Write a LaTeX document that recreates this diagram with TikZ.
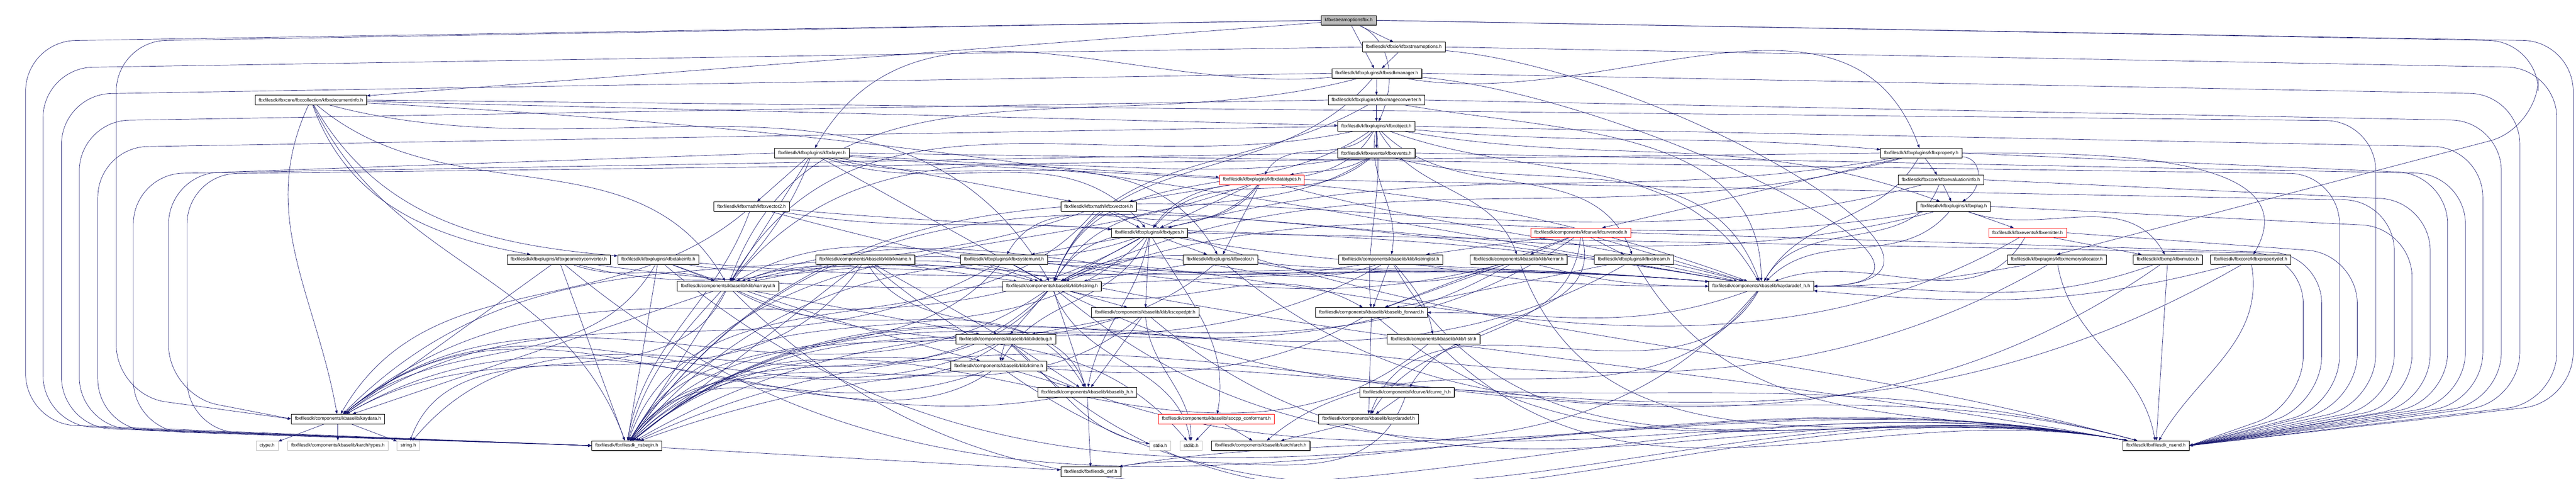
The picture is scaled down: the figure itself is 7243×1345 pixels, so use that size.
\documentclass[tikz,border=0pt]{standalone}
\usepackage{fontspec}
\setmainfont{Liberation Sans}
\usetikzlibrary{arrows.meta,shadows,calc}
\definecolor{edgeblue}{RGB}{25,25,112}
\definecolor{leafgray}{RGB}{191,191,191}
\pgfdeclarelayer{bg}
\pgfsetlayers{bg,main}
\tikzset{
  lnk/.style={draw=edgeblue, line width=0.1pt, -{Triangle[length=0.95pt,width=0.7pt]}},
  bx/.style={draw=black, fill=white, line width=0.1pt, font=\fontsize{1.307}{1.5}\selectfont,
     inner xsep=1pt, inner ysep=0pt, minimum height=2.7pt,
     drop shadow={shadow xshift=0.15pt, shadow yshift=-0.15pt, fill=black!60, opacity=1}},
  rootbx/.style={bx, fill=leafgray},
  redbx/.style={draw=red, fill=white, line width=0.1pt, font=\fontsize{1.307}{1.5}\selectfont,
     inner xsep=1pt, inner ysep=0pt, minimum height=2.7pt},
  leafbx/.style={draw=leafgray, fill=white, line width=0.1pt, font=\fontsize{1.307}{1.5}\selectfont,
     inner xsep=1pt, inner ysep=0pt, minimum height=2.7pt}
}
\newcommand\EdS[2]{\draw[lnk] (#1) -- (#2);}
\newcommand\EdC[4]{\draw[lnk] (#1) to[out=#3,in=#4] (#2);}
\newcommand\EdCL[5]{\draw[lnk] (#1) to[out=#3,in=#4,looseness=#5] (#2);}
\newcommand\EdL[4]{\draw[lnk,rounded corners=14pt] (#1.west) -- ($(#3,0 |- #1.south)+(0,45)$) -- (#3,#4) -- (#2.west);}
\newcommand\EdR[4]{\draw[lnk,rounded corners=14pt] (#1.east) -- ($(#3,0 |- #1.south)+(0,45)$) -- (#3,#4) -- (#2.east);}
\begin{document}
\begin{tikzpicture}[x=0.1pt,y=-0.1pt]
\useasboundingbox (0,0) rectangle (7243,1345);
% ---------------- nodes ----------------
\node[rootbx] (root) at (3792,57) {kfbxstreamoptionsfbx.h};
\node[bx] (sopt) at (3947,132) {fbxfilesdk/kfbxio/kfbxstreamoptions.h};
\node[bx] (sdkm) at (3871,206) {fbxfilesdk/kfbxplugins/kfbxsdkmanager.h};
\node[bx] (docinfo) at (874,281) {fbxfilesdk/fbxcore/fbxcollection/kfbxdocumentinfo.h};
\node[bx] (imgconv) at (3870,281) {fbxfilesdk/kfbxplugins/kfbximageconverter.h};
\node[bx] (object) at (3870,355) {fbxfilesdk/kfbxplugins/kfbxobject.h};
\node[bx] (layer) at (2283,430) {fbxfilesdk/kfbxplugins/kfbxlayer.h};
\node[bx] (events) at (3870,430) {fbxfilesdk/kfbxevents/kfbxevents.h};
\node[bx] (property) at (5402,430) {fbxfilesdk/kfbxplugins/kfbxproperty.h};
\node[redbx] (datatypes) at (3548,505) {fbxfilesdk/kfbxplugins/kfbxdatatypes.h};
\node[bx] (evalinfo) at (5457,505) {fbxfilesdk/fbxcore/kfbxevaluationinfo.h};
\node[bx] (vector2) at (2113,580) {fbxfilesdk/kfbxmath/kfbxvector2.h};
\node[bx] (vector4) at (3089,580) {fbxfilesdk/kfbxmath/kfbxvector4.h};
\node[bx] (plug) at (5493,580) {fbxfilesdk/kfbxplugins/kfbxplug.h};
\node[bx] (types) at (3232,654) {fbxfilesdk/kfbxplugins/kfbxtypes.h};
\node[redbx] (curvenode) at (4445,654) {fbxfilesdk/components/kfcurve/kfcurvenode.h};
\node[redbx] (emitter) at (5701,654) {fbxfilesdk/kfbxevents/kfbxemitter.h};
\node[bx] (geomconv) at (1571,729) {fbxfilesdk/kfbxplugins/kfbxgeometryconverter.h};
\node[bx] (takeinfo) at (1851,729) {fbxfilesdk/kfbxplugins/kfbxtakeinfo.h};
\node[bx] (kname) at (2433,729) {fbxfilesdk/components/kbaselib/klib/kname.h};
\node[bx] (sysunit) at (2823,729) {fbxfilesdk/kfbxplugins/kfbxsystemunit.h};
\node[bx] (color) at (3431,729) {fbxfilesdk/kfbxplugins/kfbxcolor.h};
\node[bx] (strlist) at (3910,729) {fbxfilesdk/components/kbaselib/klib/kstringlist.h};
\node[bx] (kerror) at (4270,729) {fbxfilesdk/components/kbaselib/klib/kerror.h};
\node[bx] (stream) at (4594,729) {fbxfilesdk/kfbxplugins/kfbxstream.h};
\node[bx] (memalloc) at (5783,729) {fbxfilesdk/kfbxplugins/kfbxmemoryallocator.h};
\node[bx] (mutex) at (6095,729) {fbxfilesdk/kfbxmp/kfbxmutex.h};
\node[bx] (propdef) at (6328,729) {fbxfilesdk/fbxcore/kfbxpropertydef.h};
\node[bx] (karrayul) at (2047,804) {fbxfilesdk/components/kbaselib/klib/karrayul.h};
\node[bx] (kstring) at (2958,804) {fbxfilesdk/components/kbaselib/klib/kstring.h};
\node[bx] (kaydaradefh) at (4952,804) {fbxfilesdk/components/kbaselib/kaydaradef\_h.h};
\node[bx] (scopedptr) at (3220,878) {fbxfilesdk/components/kbaselib/klib/kscopedptr.h};
\node[bx] (forward) at (3856,878) {fbxfilesdk/components/kbaselib/kbaselib\_forward.h};
\node[bx] (kdebug) at (2828,953) {fbxfilesdk/components/kbaselib/klib/kdebug.h};
\node[bx] (tstr) at (4031,953) {fbxfilesdk/components/kbaselib/klib/t-str.h};
\node[bx] (ktime) at (2808,1028) {fbxfilesdk/components/kbaselib/klib/ktime.h};
\node[bx] (kbaselibh) at (3057,1102) {fbxfilesdk/components/kbaselib/kbaselib\_h.h};
\node[bx] (kfcurveh) at (3956,1102) {fbxfilesdk/components/kfcurve/kfcurve\_h.h};
\node[bx] (kaydara) at (950,1177) {fbxfilesdk/components/kbaselib/kaydara.h};
\node[redbx] (isocpp) at (3420,1177) {fbxfilesdk/components/kbaselib/isocpp\_conformant.h};
\node[bx] (kaydaradef) at (3848,1177) {fbxfilesdk/components/kbaselib/kaydaradef.h};
\node[leafbx] (ctype) at (751,1252) {ctype.h};
\node[leafbx] (archtypes) at (950,1252) {fbxfilesdk/components/kbaselib/karch/types.h};
\node[leafbx] (string) at (1148,1252) {string.h};
\node[bx] (nsbegin) at (1762,1252) {fbxfilesdk/fbxfilesdk\_nsbegin.h};
\node[leafbx] (stdio) at (3262,1252) {stdio.h};
\node[leafbx] (stdlib) at (3349,1252) {stdlib.h};
\node[bx] (arch) at (3545,1252) {fbxfilesdk/components/kbaselib/karch/arch.h};
\node[bx] (nsend) at (6062,1252) {fbxfilesdk/fbxfilesdk\_nsend.h};
\node[bx] (def) at (3067,1325) {fbxfilesdk/fbxfilesdk\_def.h};
% ---------------- edges ----------------
\begin{pgfonlayer}{bg}
\fill[white] (0,0) rectangle (7243,1345);
% root
\EdS{root}{sopt}
\EdS{root}{sdkm}
\EdC{root}{object}{-25}{65}
\EdS{root}{docinfo}
\EdL{root}{nsbegin}{72}{1190}
\EdL{root}{kaydara}{327}{1110}
\EdR{root}{nsend}{7235}{1130}
\draw[lnk,rounded corners=14pt] (root.east) -- ($(7137,0 |- root.south)+(0,45)$) -- (7137,360) -- (memalloc.north);
% sopt
\EdS{sopt}{sdkm}
\EdL{sopt}{nsbegin}{121}{1195}
\EdR{sopt}{nsend}{7189}{1130}
\EdCL{sopt}{kaydaradefh}{-5}{0}{1.3}
% sdkm
\EdS{sdkm}{imgconv}
\EdC{sdkm}{layer}{-175}{60}
\EdC{sdkm}{property}{-10}{110}
\EdR{sdkm}{nsend}{7085}{1130}
\EdCL{sdkm}{kaydaradefh}{-5}{0}{1.2}
\EdL{sdkm}{nsbegin}{173}{1200}
\EdC{sdkm}{kstring}{-130}{70}
\EdC{sdkm}{karrayul}{-165}{70}
% imgconv
\EdS{imgconv}{object}
\EdR{imgconv}{nsend}{7033}{1130}
\EdC{imgconv}{kaydaradefh}{-10}{90}
\EdL{imgconv}{nsbegin}{223}{1200}
\EdC{imgconv}{kstring}{-150}{70}
% object
\EdS{object}{events}
\EdC{object}{property}{-5}{175}
\EdC{object}{datatypes}{-130}{60}
\EdC{object}{types}{-120}{55}
\EdC{object}{karrayul}{-168}{60}
\EdC{object}{kstring}{-145}{70}
\EdC{object}{kerror}{-60}{110}
\EdC{object}{strlist}{-100}{80}
\EdC{object}{stream}{-45}{110}
\EdC{object}{forward}{-85}{95}
\EdC{object}{plug}{-10}{160}
\EdC{object}{kaydaradefh}{-20}{120}
\EdL{object}{nsbegin}{275}{1205}
\EdR{object}{nsend}{6981}{1130}
% events
\EdC{events}{types}{-140}{50}
\EdC{events}{datatypes}{-150}{10}
\EdC{events}{karrayul}{-170}{50}
\EdC{events}{kstring}{-145}{60}
\EdC{events}{kaydaradefh}{-15}{110}
\EdL{events}{nsbegin}{375}{1210}
\EdR{events}{nsend}{6932}{1130}
% docinfo
\EdS{docinfo}{object}
\EdC{docinfo}{kstring}{-15}{120}
\EdC{docinfo}{kaydara}{-115}{100}
\EdC{docinfo}{nsbegin}{-65}{110}
\EdC{docinfo}{kaydaradefh}{-3}{170}
\EdR{docinfo}{nsend}{6680}{1135}
\EdC{docinfo}{geomconv}{-70}{170}
\EdC{docinfo}{takeinfo}{-60}{175}
\EdC{docinfo}{karrayul}{-40}{120}
% layer
\EdS{layer}{vector2}
\EdS{layer}{vector4}
\EdS{layer}{datatypes}
\EdC{layer}{types}{-20}{130}
\EdC{layer}{color}{-15}{120}
\EdS{layer}{karrayul}
\EdS{layer}{kstring}
\EdL{layer}{kaydara}{474}{1110}
\EdC{layer}{nsbegin}{-110}{75}
\EdC{layer}{kaydaradefh}{-5}{160}
\EdR{layer}{nsend}{6578}{1140}
% property
\EdS{property}{evalinfo}
\EdCL{property}{plug}{-5}{30}{1.3}
\EdC{property}{propdef}{0}{60}
\EdS{property}{curvenode}
\EdC{property}{types}{-170}{15}
\EdC{property}{kstring}{-165}{25}
\EdC{property}{kaydaradefh}{-120}{60}
\EdL{property}{nsbegin}{526}{1210}
\EdR{property}{nsend}{6882}{1130}
% datatypes
\EdS{datatypes}{types}
\EdS{datatypes}{vector4}
\EdS{datatypes}{color}
\EdC{datatypes}{sysunit}{-125}{60}
\EdC{datatypes}{kstring}{-130}{60}
\EdC{datatypes}{kaydaradefh}{-15}{165}
\EdC{datatypes}{nsbegin}{-160}{60}
\EdR{datatypes}{nsend}{6732}{1135}
% evalinfo
\EdS{evalinfo}{plug}
\EdC{evalinfo}{kaydaradefh}{-110}{60}
\EdR{evalinfo}{nsend}{6833}{1135}
\EdC{evalinfo}{nsbegin}{-165}{55}
% vector2
\EdC{vector2}{types}{-10}{175}
\EdC{vector2}{kaydara}{-140}{60}
\EdC{vector2}{nsbegin}{-110}{80}
\EdC{vector2}{kaydaradefh}{-5}{170}
\EdC{vector2}{nsend}{-15}{170}
% vector4
\EdS{vector4}{types}
\EdC{vector4}{kaydara}{-160}{45}
\EdC{vector4}{nsbegin}{-130}{70}
\EdC{vector4}{kaydaradefh}{-5}{170}
\EdC{vector4}{nsend}{-20}{165}
% plug
\EdS{plug}{emitter}
\EdC{plug}{mutex}{-20}{120}
\EdC{plug}{kaydaradefh}{-130}{45}
\EdR{plug}{nsend}{6782}{1135}
\EdC{plug}{nsbegin}{-165}{55}
\EdC{plug}{kstring}{-170}{20}
% types
\EdS{types}{color}
\EdS{types}{sysunit}
\EdS{types}{kstring}
\EdC{types}{ktime}{-115}{60}
\EdC{types}{isocpp}{-60}{80}
\EdS{types}{scopedptr}
\EdC{types}{karrayul}{-160}{30}
\EdC{types}{kbaselibh}{-100}{80}
\EdC{types}{kaydaradefh}{-10}{175}
\EdC{types}{nsbegin}{-135}{60}
\EdR{types}{nsend}{6476}{1140}
\EdC{types}{kaydara}{-150}{40}
% curvenode
\EdS{curvenode}{kerror}
\EdS{curvenode}{stream}
\EdC{curvenode}{kfcurveh}{-75}{60}
\EdS{curvenode}{strlist}
\EdS{curvenode}{forward}
\EdS{curvenode}{kaydaradefh}
\EdC{curvenode}{nsbegin}{-145}{40}
\EdR{curvenode}{nsend}{6528}{1140}
\EdC{curvenode}{kaydaradef}{-95}{60}
% emitter
\EdS{emitter}{mutex}
\EdC{emitter}{kaydaradefh}{-120}{20}
\EdR{emitter}{nsend}{6628}{1135}
\EdC{emitter}{nsbegin}{-150}{50}
% row 729
\EdS{geomconv}{kaydara}
\EdC{geomconv}{karrayul}{-20}{160}
\EdS{geomconv}{nsbegin}
\EdC{geomconv}{nsend}{-40}{170}
\EdC{geomconv}{kaydaradefh}{-8}{175}
\EdC{geomconv}{kstring}{-15}{165}
\EdS{takeinfo}{karrayul}
\EdC{takeinfo}{ktime}{-20}{165}
\EdC{takeinfo}{kstring}{-10}{160}
\EdS{takeinfo}{nsbegin}
\EdC{takeinfo}{nsend}{-40}{170}
\EdC{takeinfo}{kaydaradefh}{-5}{175}
\EdC{takeinfo}{kaydara}{-120}{40}
\EdS{kname}{karrayul}
\EdS{kname}{kstring}
\EdS{kname}{kdebug}
\EdC{kname}{kaydara}{-125}{30}
\EdS{kname}{nsbegin}
\EdC{kname}{nsend}{-40}{170}
\EdC{kname}{kaydaradefh}{-5}{175}
\EdC{kname}{kbaselibh}{-60}{110}
\EdS{sysunit}{kstring}
\EdC{sysunit}{karrayul}{-170}{20}
\EdC{sysunit}{nsbegin}{-130}{60}
\EdC{sysunit}{nsend}{-30}{165}
\EdC{sysunit}{kaydaradefh}{-5}{175}
\EdC{sysunit}{kaydara}{-150}{35}
\EdS{color}{kstring}
\EdC{color}{kaydaradefh}{-5}{175}
\EdC{color}{nsbegin}{-140}{50}
\EdC{color}{nsend}{-40}{165}
\EdS{strlist}{forward}
\EdC{strlist}{tstr}{-50}{100}
\EdC{strlist}{kstring}{-160}{30}
\EdC{strlist}{karrayul}{-170}{20}
\EdC{strlist}{kaydaradefh}{-10}{180}
\EdC{strlist}{nsbegin}{-150}{40}
\EdC{strlist}{nsend}{-60}{170}
\EdS{kerror}{forward}
\EdC{kerror}{karrayul}{-165}{15}
\EdC{kerror}{kstring}{-160}{25}
\EdC{kerror}{kaydaradefh}{-15}{180}
\EdC{kerror}{nsbegin}{-150}{40}
\EdC{kerror}{nsend}{-70}{170}
\EdS{stream}{kaydaradefh}
\EdS{stream}{forward}
\EdC{stream}{nsbegin}{-150}{40}
\EdC{stream}{nsend}{-60}{170}
\EdC{memalloc}{kaydaradefh}{-170}{0}
\EdC{memalloc}{nsend}{-80}{100}
\EdC{memalloc}{nsbegin}{-150}{30}
\EdS{mutex}{nsend}
\EdC{mutex}{kaydaradefh}{-160}{0}
\EdC{mutex}{nsbegin}{-145}{25}
\EdC{propdef}{nsend}{-80}{60}
\EdC{propdef}{kaydaradefh}{-165}{-5}
\EdC{propdef}{nsbegin}{-150}{20}
% row 804
\EdS{karrayul}{kdebug}
\EdC{karrayul}{kbaselibh}{-30}{120}
\EdC{karrayul}{stdlib}{-25}{130}
\EdC{karrayul}{string}{-115}{70}
\EdS{karrayul}{kaydara}
\EdS{karrayul}{nsbegin}
\EdC{karrayul}{nsend}{-45}{170}
\EdS{kstring}{scopedptr}
\EdS{kstring}{kdebug}
\EdS{kstring}{kbaselibh}
\EdC{kstring}{stdlib}{-70}{100}
\EdC{kstring}{string}{-135}{50}
\EdC{kstring}{kaydara}{-145}{40}
\EdC{kstring}{nsbegin}{-130}{50}
\EdC{kstring}{nsend}{-40}{170}
\EdC{kstring}{forward}{-15}{150}
\EdC{kaydaradefh}{forward}{-160}{0}
\EdC{kaydaradefh}{kaydaradef}{-120}{70}
\EdC{kaydaradefh}{def}{-130}{10}
\EdC{kaydaradefh}{arch}{-125}{40}
% row 878
\EdS{scopedptr}{kdebug}
\EdC{scopedptr}{stdlib}{-85}{90}
\EdS{scopedptr}{kbaselibh}
\EdC{scopedptr}{nsbegin}{-140}{45}
\EdC{scopedptr}{nsend}{-40}{170}
\EdS{forward}{kaydaradef}
\EdC{forward}{nsbegin}{-150}{40}
\EdC{forward}{nsend}{-40}{170}
% row 953
\EdS{kdebug}{ktime}
\EdS{kdebug}{kbaselibh}
\EdC{kdebug}{stdio}{-40}{170}
\EdC{kdebug}{nsbegin}{-145}{55}
\EdC{kdebug}{nsend}{-45}{170}
\EdC{kdebug}{kaydara}{-155}{40}
\EdC{tstr}{nsbegin}{-140}{45}
\EdC{tstr}{nsend}{-45}{170}
% row 1028
\EdS{ktime}{kbaselibh}
\EdC{ktime}{nsbegin}{-145}{55}
\EdC{ktime}{nsend}{-35}{170}
\EdC{ktime}{kaydara}{-160}{40}
% row 1102
\EdS{kbaselibh}{def}
\EdC{kbaselibh}{kaydara}{-170}{30}
\EdS{kfcurveh}{kaydaradef}
\EdC{kfcurveh}{def}{-110}{10}
% row 1177
\EdS{kaydara}{ctype}
\EdS{kaydara}{archtypes}
\EdS{kaydara}{string}
\EdS{isocpp}{stdlib}
\EdS{isocpp}{arch}
\EdS{kaydaradef}{arch}
% row 1252
\EdS{nsbegin}{def}
\end{pgfonlayer}
\end{tikzpicture}
\end{document}
